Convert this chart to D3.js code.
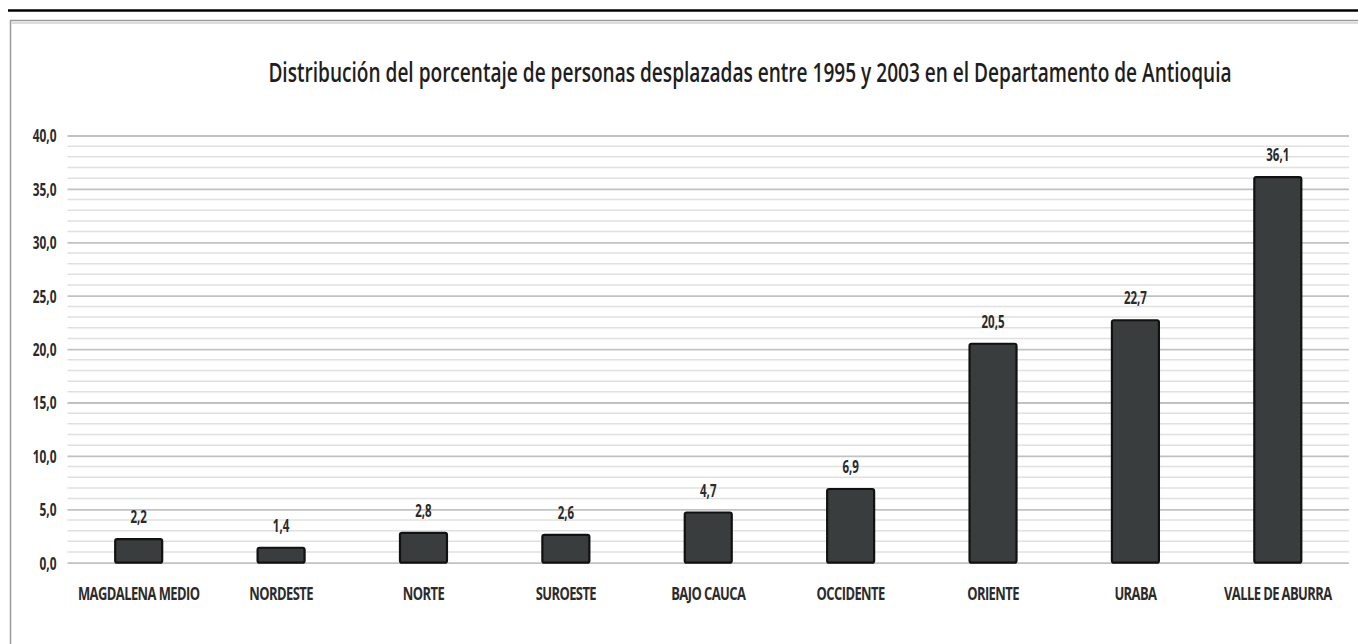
<!DOCTYPE html>
<html><head><meta charset="utf-8">
<script src="https://cdn.jsdelivr.net/npm/d3@7"></script>
<style>
html,body{margin:0;padding:0;background:#fff;}
svg{display:block;}
</style></head>
<body>
<svg id="chart" width="1358" height="644"></svg>
<script>
const title = "Distribución del porcentaje de personas desplazadas entre 1995 y 2003  en el Departamento de Antioquia";
const categories = ["MAGDALENA MEDIO","NORDESTE","NORTE","SUROESTE","BAJO CAUCA","OCCIDENTE","ORIENTE","URABA","VALLE DE ABURRA"];
const values = [2.2,1.4,2.8,2.6,4.7,6.9,20.5,22.7,36.1];
const yTicks = [0,5,10,15,20,25,30,35,40];
const yMinorTicks = d3.range(0,41,1);

const svg = d3.select("#chart");
const W = 1358, H = 644;
const fmt = v => d3.format(".1f")(v).replace(".", ",");
const FONT = "'Open Sans', 'DejaVu Sans', sans-serif";

// top black rule and frame
svg.append("line").attr("x1",8).attr("x2",W).attr("y1",10.5).attr("y2",10.5)
  .attr("stroke","#000").attr("stroke-width",2.5);
svg.append("rect").attr("x",10.5).attr("y",20.5).attr("width",W).attr("height",H)
  .attr("fill","none").attr("stroke","#9a9a9a").attr("stroke-width",1.5);
svg.append("line").attr("x1",11).attr("x2",W).attr("y1",23).attr("y2",23)
  .attr("stroke","#dcdcdc").attr("stroke-width",2);

const x = d3.scaleBand().domain(categories).range([67.5,1349]).paddingInner(0.67).paddingOuter(0.335);
const y = d3.scaleLinear().domain([0,40]).range([562.7,135.5]);

// minor gridlines
svg.append("g").selectAll("line").data(yMinorTicks.filter(d => d % 5 !== 0)).join("line")
  .attr("x1",67.5).attr("x2",1349).attr("y1",d=>y(d)).attr("y2",d=>y(d))
  .attr("stroke","#e0e0e0").attr("stroke-width",1.5);
// major gridlines
const yAxis = d3.axisLeft(y).tickValues(yTicks).tickFormat(fmt).tickSize(-(1349-67.5)).tickPadding(11);
const gy = svg.append("g").attr("transform","translate(67.5,0)").call(yAxis);
gy.select(".domain").remove();
gy.selectAll(".tick line").attr("stroke","#c2c2c2").attr("stroke-width",1.8);
const kTick = 0.66;
gy.selectAll(".tick text").attr("font-family",FONT).attr("font-size",18).attr("font-weight",700)
  .attr("fill","#2a2a2a").attr("dy","0.35em")
  .attr("transform",`scale(${kTick},1)`).attr("x",-11/kTick);

// bars
svg.append("g").selectAll("rect").data(values).join("rect")
  .attr("x",(d,i)=>x(categories[i]))
  .attr("width",x.bandwidth())
  .attr("y",d=>y(d))
  .attr("height",d=>y(0)-y(d))
  .attr("rx",2)
  .attr("fill","#3a3d3d").attr("stroke","#111").attr("stroke-width",2.2);

function condensed(sel, k){
  sel.each(function(){
    const t = d3.select(this);
    const cx = +t.attr("data-x"), cy = +t.attr("data-y");
    t.attr("transform",`translate(${cx},${cy}) scale(${k},1)`);
  });
}
// value labels
svg.append("g").selectAll("text").data(values).join("text")
  .attr("data-x",(d,i)=>x(categories[i])+x.bandwidth()/2)
  .attr("data-y",d=>y(d)-16)
  .attr("text-anchor","middle")
  .attr("font-family",FONT).attr("font-size",18).attr("font-weight",700).attr("fill","#2a2a2a")
  .text(fmt)
  .call(condensed,0.64);

// category labels
svg.append("g").selectAll("text").data(categories).join("text")
  .attr("data-x",d=>x(d)+x.bandwidth()/2)
  .attr("data-y",600)
  .attr("text-anchor","middle")
  .attr("font-family",FONT).attr("font-size",18).attr("font-weight",700).attr("fill","#2b2b2b")
  .attr("letter-spacing",-0.8)
  .text(d=>d)
  .call(condensed,0.72);

// title
const tt = svg.append("text")
  .attr("data-x",750).attr("data-y",82)
  .attr("text-anchor","middle")
  .attr("font-family",FONT).attr("font-size",27).attr("font-weight",600).attr("fill","#1e1e1e")
  .text(title);
const tw = tt.node().getComputedTextLength();
tt.call(condensed, 964/tw);
</script>
</body></html>
